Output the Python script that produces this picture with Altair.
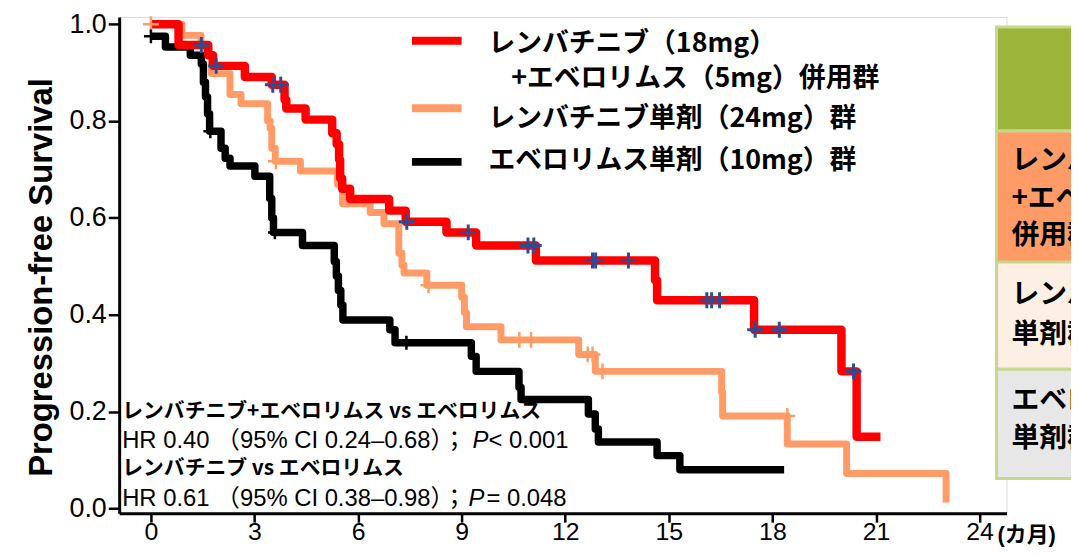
import altair as alt
import pandas as pd

# ---------------- data ----------------
X_TICKS = [0, 3, 6, 9, 12, 15, 18, 21, 24]
Y_TICKS = [0.0, 0.2, 0.4, 0.6, 0.8, 1.0]

# Lenvatinib + everolimus (red)
red_t = [0, 0.8, 1.66, 1.8, 2.72, 3.5, 3.87, 3.92, 4.48, 5.25, 5.38, 5.45, 5.48, 5.54,
         5.77, 6.9, 7.38, 8.56, 9.42, 11.15, 14.6, 14.66, 17.47, 20.0, 20.44, 21.13]
red_s = [1.0, 0.957, 0.936, 0.914, 0.891, 0.875, 0.844, 0.826, 0.803, 0.775, 0.752, 0.72,
         0.682, 0.660, 0.639, 0.615, 0.592, 0.570, 0.543, 0.512, 0.471, 0.430, 0.369,
         0.283, 0.148, 0.148]
red_cens_t = [1.46, 1.89, 3.53, 3.76, 7.41, 9.19, 10.92, 11.09, 12.79, 12.88, 13.83,
              16.1, 16.24, 16.47, 17.5, 18.2, 20.35]
red_cens_s = [0.957, 0.914, 0.875, 0.875, 0.592, 0.570, 0.543, 0.543, 0.512, 0.512,
              0.512, 0.430, 0.430, 0.430, 0.369, 0.369, 0.283]

# Lenvatinib alone (orange)
org_t = [0, 0.9, 1.45, 1.6, 1.75, 2.29, 2.61, 3.38, 3.45, 3.5, 3.6, 4.33, 5.40, 5.55,
         6.35, 6.75, 7.18, 7.27, 7.33, 7.99, 9.0, 9.08, 9.14, 10.14, 12.39, 12.87,
         16.53, 16.56, 18.43, 20.15, 23.03]
org_s = [1.0, 0.977, 0.955, 0.936, 0.898, 0.855, 0.836, 0.80, 0.785, 0.744, 0.717,
         0.697, 0.670, 0.629, 0.611, 0.588, 0.527, 0.502, 0.486, 0.461, 0.436, 0.404,
         0.375, 0.348, 0.318, 0.283, 0.240, 0.191, 0.133, 0.072, 0.012]
org_cens_t = [0, 3.62, 8.04, 10.67, 11.01, 12.65, 12.79, 13.08, 18.43]
org_cens_s = [1.0, 0.717, 0.461, 0.348, 0.348, 0.318, 0.318, 0.283, 0.191]

# Everolimus alone (black)
blk_t = [0, 0.42, 1.14, 1.46, 1.52, 1.58, 1.64, 1.7, 2.03, 2.15, 2.29, 3.01, 3.44, 3.5,
         3.55, 4.39, 5.31, 5.37, 5.43, 5.5, 5.56, 6.92, 7.07, 9.28, 9.42, 10.66, 10.72,
         12.67, 12.87, 12.96, 14.66, 15.32, 18.34]
blk_s = [0.975, 0.953, 0.936, 0.918, 0.88, 0.85, 0.815, 0.779, 0.744, 0.723, 0.707,
         0.686, 0.64, 0.60, 0.57, 0.543, 0.51, 0.48, 0.45, 0.42, 0.389, 0.369, 0.342,
         0.314, 0.283, 0.25, 0.225, 0.195, 0.164, 0.137, 0.109, 0.080, 0.080]
blk_cens_t = [0, 1.72, 3.59, 7.4]
blk_cens_s = [0.975, 0.779, 0.570, 0.342]

legend_labels = ["レンバチニブ（18mg）", "+エベロリムス（5mg）併用群",
                 "レンバチニブ単剤（24mg）群", "エベロリムス単剤（10mg）群"]
annot_lines = ["レンバチニブ+エベロリムス vs エベロリムス",
               "HR 0.40 （95% CI 0.24–0.68）；", "P", "< 0.001",
               "レンバチニブ vs エベロリムス",
               "HR 0.61 （95% CI 0.38–0.98）；", "P", "= 0.048"]
table_rows = [["", ""], ["レンバチニブ", "+エベロリムス", "併用群"],
              ["レンバチニブ", "単剤群"], ["エベロリムス", "単剤群"]]
table_colors = ["#9db43b", "#fe9b66", "#fdefe3", "#e7e7e7"]

RED, ORANGE, BLACK, BLUE = "#ff0000", "#ff9b66", "#000000", "#2b4c95"
JP = "Noto Sans CJK JP"
LAT = "Liberation Sans, Noto Sans CJK JP"

W, H = 894, 500
xs = alt.Scale(domain=[-0.92, 24.78], nice=False, zero=False)
ys = alt.Scale(domain=[-0.01, 1.015], nice=False, zero=False)

x_axis = alt.Axis(values=X_TICKS, title=None, labelFontSize=25, labelFont="Liberation Sans",
                  labelColor="black", tickColor="black", tickSize=9, tickWidth=2.5,
                  domainColor="black", domainWidth=3, grid=False, labelPadding=-3,
                  labelOverlap=False, labelFlush=False)
y_axis = alt.Axis(values=Y_TICKS, format=".1f", title="Progression-free Survival",
                  titleFontSize=33, titleFont="Liberation Sans", titleFontWeight="bold",
                  titleColor="black", titleX=-68, titleY=262, titleAngle=270,
                  titleAlign="center", titleBaseline="alphabetic",
                  labelFontSize=27, labelFont="Liberation Sans", labelColor="black",
                  tickColor="black", tickSize=11, tickWidth=2.5, domainColor="black",
                  domainWidth=3, grid=False, labelPadding=2, labelOverlap=False,
                  labelFlush=False)

one = pd.DataFrame({"k": [0]})


def step_line(t, s, color, width):
    df = pd.DataFrame({"t": t, "s": s})
    return alt.Chart(df).mark_line(interpolate="step-after", color=color,
                                   strokeWidth=width, strokeJoin="round").encode(
        x=alt.X("t:Q", scale=xs, axis=x_axis),
        y=alt.Y("s:Q", scale=ys, axis=y_axis))


def censor(t, s, color, size, sw):
    df = pd.DataFrame({"t": t, "s": s})
    return alt.Chart(df).mark_point(shape="M-1,0L1,0M0,-1L0,1", filled=False,
                                    stroke=color, strokeWidth=sw, size=size,
                                    opacity=1).encode(
        x=alt.X("t:Q", scale=xs, axis=x_axis),
        y=alt.Y("s:Q", scale=ys, axis=y_axis))


def txt(s, x, y, size, weight="normal", style="normal", font=JP, align="left", color="black"):
    return alt.Chart(one).mark_text(text=s, fontSize=size, fontWeight=weight,
                                    fontStyle=style, font=font, align=align,
                                    baseline="middle", color=color).encode(
        x=alt.value(x), y=alt.value(y))


def rect(x0, x1, y0, y1, fill):
    return alt.Chart(one).mark_rect(fill=fill, stroke="#c5d88c", strokeWidth=3).encode(
        x=alt.value(x0), x2=alt.value(x1), y=alt.value(y0), y2=alt.value(y1))


def hline(x0, x1, y, color, width):
    return alt.Chart(one).mark_rule(color=color, strokeWidth=width).encode(
        x=alt.value(x0), x2=alt.value(x1), y=alt.value(y))


layers = []
# table on the right
row_y = [(10, 115), (115, 247), (247, 355), (355, 465)]
for (y0, y1), col in zip(row_y, table_colors):
    layers.append(rect(884, 990, y0, y1, col))
cell_text_y = [[], [145, 183, 221], [280, 320], [387, 425]]
for lines, ys_ in zip(table_rows, cell_text_y):
    for line, yy in zip(lines, ys_):
        layers.append(txt(line, 899, yy, 28, weight="bold"))

# legend
layers.append(hline(295, 345, 24, RED, 8))
layers.append(hline(295, 345, 92, ORANGE, 8))
layers.append(hline(295, 345, 146, BLACK, 8))
layers.append(txt(legend_labels[0], 372, 27, 27, weight="bold"))
layers.append(txt(legend_labels[1], 395, 63, 27, weight="bold"))
layers.append(txt(legend_labels[2], 372, 103, 27, weight="bold"))
layers.append(txt(legend_labels[3], 372, 145, 27, weight="bold"))

# annotation block
layers.append(txt(annot_lines[0], 3, 398, 21, weight="bold"))
layers.append(txt(annot_lines[1], 3, 427, 24, font=LAT))
layers.append(txt(annot_lines[2], 356, 427, 24, style="italic", font="Liberation Sans"))
layers.append(txt(annot_lines[3], 372, 427, 24, font="Liberation Sans"))
layers.append(txt(annot_lines[4], 3, 455, 21, weight="bold"))
layers.append(txt(annot_lines[5], 3, 486, 24, font=LAT))
layers.append(txt(annot_lines[6], 352, 486, 24, style="italic", font="Liberation Sans"))
layers.append(txt(annot_lines[7], 370, 486, 24, font="Liberation Sans"))

# x unit label
layers.append(txt("(カ月)", 885, 522, 22, weight="bold", font=LAT))

# curves
layers.append(step_line(org_t, org_s, ORANGE, 7))
layers.append(step_line(blk_t, blk_s, BLACK, 7.5))
layers.append(step_line(red_t, red_s, RED, 8.5))
layers.append(censor(org_cens_t, org_cens_s, ORANGE, 256, 2.5))
layers.append(censor(blk_cens_t, blk_cens_s, BLACK, 196, 2.5))
layers.append(censor(red_cens_t, red_cens_s, BLUE, 256, 3))

chart = alt.layer(*layers).properties(
    width=W, height=H,
    autosize=alt.AutoSizeParams(type="none"),
    padding={"left": 112, "top": 7, "right": 65, "bottom": 33},
).configure_view(stroke=None).configure(background="white")

chart.save("out.html", embed_options={"renderer": "svg", "actions": False})
